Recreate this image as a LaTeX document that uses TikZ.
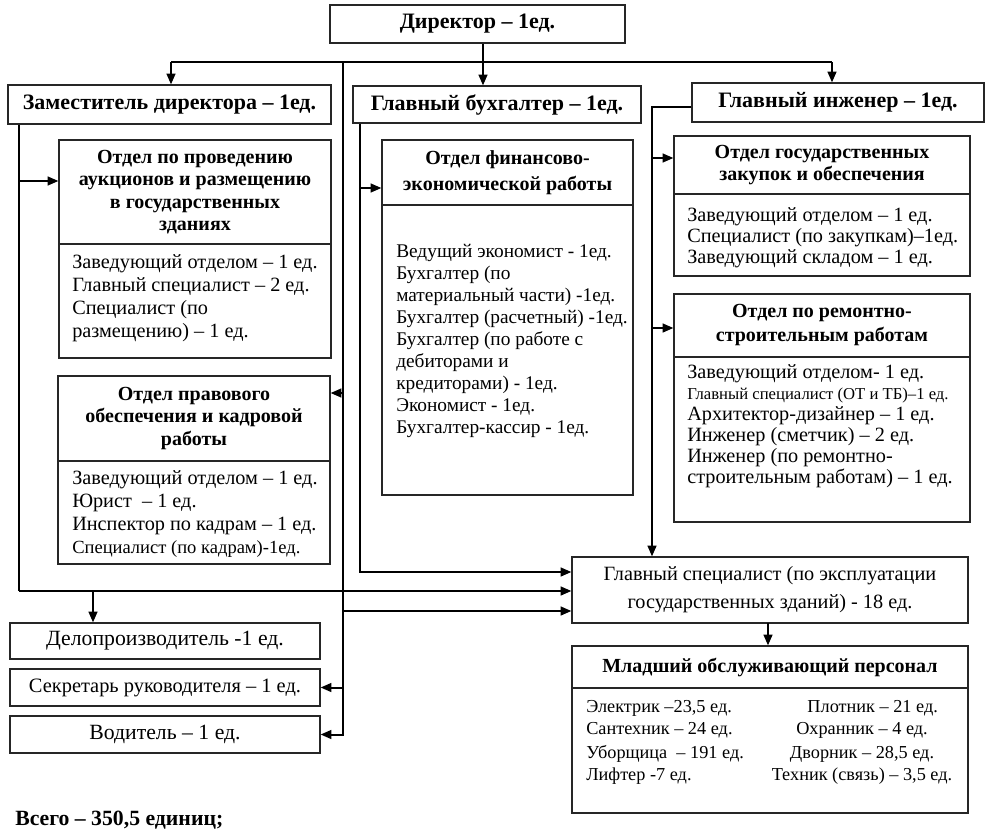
\documentclass[tikz,border=0pt]{standalone}
\usepackage{fontspec}
\setmainfont{Liberation Serif}
\usetikzlibrary{arrows.meta,fit}
\newcommand\fHead{\fontsize{16.5}{19}\selectfont\bfseries}
\newcommand\fTitle{\fontsize{15}{16.9}\selectfont\bfseries}
\newcommand\fBody{\fontsize{15.2}{17.25}\selectfont}
\newcommand\fSmall{\fontsize{13.9}{15}\selectfont}
\newcommand\fTiny{\fontsize{12.5}{15}\selectfont}
\newcommand\fBig{\fontsize{15.2}{21}\selectfont}
\newcommand\fMl{\fontsize{13.7}{16.1}\selectfont}
\begin{document}
\begin{tikzpicture}[x=0.75pt,y=-0.75pt,
  box/.style={draw=black!85,line width=0.9pt,inner sep=0pt},
  ln/.style={line width=1.5pt},
  arr/.style={line width=1.5pt,-{Triangle[length=8pt,width=6.5pt]}},
  hd/.style={inner sep=0pt,font=\fHead},
  ttl/.style={align=center,inner sep=0pt,font=\fTitle},
  bdy/.style={align=left,inner sep=0pt,anchor=base west,font=\fBody}]
\useasboundingbox (0,0) rectangle (990,839);
% boxes
\node[box,fit={(330,5) (625,43)}] (dir) {};
\node[box,fit={(8,85) (331,124)}] (dep) {};
\node[box,fit={(353,86) (641,123)}] (acc) {};
\node[box,fit={(692,83) (984,122)}] (eng) {};
\node[box,fit={(59,140) (331,244)}] (auT) {};
\node[box,fit={(59,244) (331,358)}] (auBx) {};
\node[box,fit={(58,376) (330,461)}] (prT) {};
\node[box,fit={(58,461) (330,564)}] (prBx) {};
\node[box,fit={(382,140) (633,205)}] (fiT) {};
\node[box,fit={(382,205) (633,495)}] (fiBx) {};
\node[box,fit={(674,136) (970,194)}] (zkT) {};
\node[box,fit={(674,194) (970,276)}] (zkBx) {};
\node[box,fit={(674,294) (970,357)}] (rmT) {};
\node[box,fit={(674,357) (970,522)}] (rmBx) {};
\node[box,fit={(572,557) (968,623)}] (gs) {};
\node[box,fit={(572,646) (968,688)}] (mlT) {};
\node[box,fit={(572,688) (968,813)}] (mlBx) {};
\node[box,fit={(10,623) (320,659)}] (del) {};
\node[box,fit={(10,669) (320,706)}] (sek) {};
\node[box,fit={(10,716) (320,753)}] (vod) {};
% texts
\node[hd] (dirL) at (dir.center) {Директор – 1ед.};
\node[hd] (depL) at (dep.center) {Заместитель директора – 1ед.};
\node[hd] (accL) at (acc.center) {Главный бухгалтер – 1ед.};
\node[hd] (engL) at (eng.center) {Главный инженер – 1ед.};
\node[ttl] (auL) at (auT.center) {Отдел по проведению\\аукционов и размещению\\в государственных\\зданиях};
\node[ttl] (prL) at (prT.center) {Отдел правового\\обеспечения и кадровой\\работы};
\node[ttl,font=\fontsize{15}{19.5}\selectfont\bfseries] (fiL) at (fiT.center) {Отдел финансово-\\экономической работы};
\node[ttl,font=\fontsize{15}{16.5}\selectfont\bfseries] (zkL) at (zkT.center) {Отдел государственных\\закупок и обеспечения};
\node[ttl,font=\fontsize{15}{18}\selectfont\bfseries] (rmL) at (rmT.center) {Отдел по ремонтно-\\строительным работам};
\node[ttl] (mlL) at (mlT.center) {Младший обслуживающий персонал};
\node[bdy] (auB) at (72,337) {Заведующий отделом – 1 ед.\\Главный специалист – 2 ед.\\Специалист (по\\размещению) – 1 ед.};
\node[bdy] (prB) at (72,553) {Заведующий отделом – 1 ед.\\Юрист \ – 1 ед.\\Инспектор по кадрам – 1 ед.\\{\fSmall Специалист (по кадрам)-1ед.}};
\node[bdy,font=\fontsize{14.5}{16.5}\selectfont] (fiB) at (396,433) {Ведущий экономист - 1ед.\\Бухгалтер (по\\материальный части) -1ед.\\Бухгалтер (расчетный) -1ед.\\Бухгалтер (по работе с\\дебиторами и\\кредиторами) - 1ед.\\Экономист - 1ед.\\Бухгалтер-кассир - 1ед.};
\node[bdy,font=\fontsize{15.2}{15.75}\selectfont] (zkB) at (687,263) {Заведующий отделом – 1 ед.\\Специалист (по закупкам)–1ед.\\Заведующий складом – 1 ед.};
\node[bdy,font=\fontsize{15.2}{15.75}\selectfont] (rmB) at (687,483) {Заведующий отделом- 1 ед.\\{\fTiny Главный специалист (ОТ и ТБ)–1 ед.}\\Архитектор-дизайнер – 1 ед.\\Инженер (сметчик) – 2 ед.\\Инженер (по ремонтно-\\строительным работам) – 1 ед.};
\node[align=center,inner sep=0pt,font=\fBig] (gsL) at (gs.center) {Главный специалист (по эксплуатации\\государственных зданий) - 18 ед.};
\node[bdy,font=\fMl] (mlB1) at (586,780) {Электрик –23,5 ед.\\Сантехник – 24 ед.\\[2pt]Уборщица \ – 191 ед.\\Лифтер -7 ед.};
\node[align=center,inner sep=0pt,anchor=base,font=\fMl] (mlB2) at (862,780) {\hspace*{16pt}Плотник – 21 ед.\\Охранник – 4 ед.\\[2pt]Дворник – 28,5 ед.\\Техник (связь) – 3,5 ед.};
\node[inner sep=0pt,font=\fontsize{16.3}{19}\selectfont] (delL) at (del.center) {Делопроизводитель -1 ед.};
\node[inner sep=0pt,font=\fontsize{15.3}{19}\selectfont] (sekL) at (sek.center) {Секретарь руководителя – 1 ед.};
\node[inner sep=0pt,font=\fontsize{16.3}{19}\selectfont] (vodL) at (vod.center) {Водитель – 1 ед.};
\node[inner sep=0pt,anchor=base west,font=\fontsize{16.3}{19}\selectfont\bfseries] (total) at (15,825) {Всего – 350,5 единиц;};
% connector coordinates
\coordinate (jA) at (483,62);
\coordinate (busL) at (171,62);
\coordinate (busR) at (832,62);
\coordinate (dv) at (343,62);
\coordinate (pA) at (343,393);
\coordinate (gA) at (343,611);
\coordinate (dX) at (19,591);
\coordinate (d1) at (19,181);
\coordinate (d2) at (93,591);
\coordinate (aX) at (360,572);
\coordinate (a1) at (360,188);
\coordinate (eX) at (652,107);
\coordinate (e1) at (652,158);
\coordinate (e2) at (652,328);
\coordinate (gm) at (768,623);
% connectors
\draw[ln] (dir.south -| jA) -- (jA);
\draw[ln] (busL) -- (busR);
\draw[arr] (busL) -- (busL |- dep.north);
\draw[arr] (jA) -- (jA |- acc.north);
\draw[arr] (busR) -- (busR |- eng.north);
\draw[arr] (dv) -- (dv |- vod.east) -- (vod.east);
\draw[arr] (dv |- sek.east) -- (sek.east);
\draw[arr] (pA) -- (pA -| prT.east);
\draw[arr] (gA) -- (gA -| gs.west);
\draw[ln] (dep.south -| dX) -- (dX);
\draw[arr] (dX) -- (dX -| gs.west);
\draw[arr] (d1) -- (d1 -| auT.west);
\draw[arr] (d2) -- (d2 |- del.north);
\draw[arr] (acc.south -| aX) -- (aX) -- (aX -| gs.west);
\draw[arr] (a1) -- (a1 -| fiT.west);
\draw[arr] (eX -| eng.west) -- (eX) -- (eX |- gs.north);
\draw[arr] (e1) -- (e1 -| zkT.west);
\draw[arr] (e2) -- (e2 -| rmT.west);
\draw[arr] (gm) -- (gm |- mlT.north);
\end{tikzpicture}
\end{document}
